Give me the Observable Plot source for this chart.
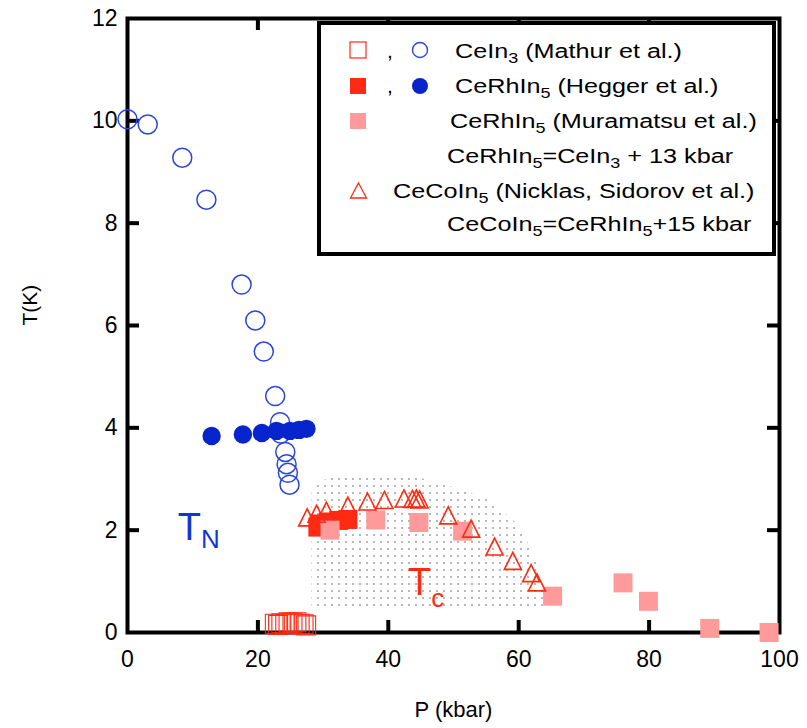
<!DOCTYPE html>
<html><head><meta charset="utf-8">
<script src="https://cdn.jsdelivr.net/npm/d3@7"></script>
<script src="https://cdn.jsdelivr.net/npm/@observablehq/plot@0.6"></script>
<style>body{margin:0;background:#fff}#chart{position:relative;width:807px;height:728px}</style>
</head><body><div id="chart"></div>
<script>
// ---- data: [P (kbar), T (K)] ----
const ceIn3_TN = [[0,10.03],[3.1,9.93],[8.4,9.28],[12.1,8.46],[17.5,6.80],[19.6,6.10],[20.9,5.49],[22.65,4.62],[23.4,4.11],[23.5,3.89],[24.2,3.53],[24.4,3.29],[24.6,3.12],[24.85,2.89]];
const ceIn3_Tc = [[22.6,0.17],[23.1,0.15],[23.6,0.18],[24.2,0.16],[24.7,0.20],[25.3,0.19],[25.9,0.20],[26.4,0.17],[27.0,0.16],[27.4,0.14]];
const ceRhIn5_TN = [[12.9,3.84],[17.7,3.87],[20.6,3.90],[22.85,3.94],[24.9,3.94],[26.3,3.96],[27.45,3.98]];
const ceRhIn5_Tc = [[29.2,2.06],[29.4,2.12],[30.8,2.16],[32.4,2.19],[33.8,2.21]];
const muramatsu = [[31.06,2.0],[38.07,2.2],[44.68,2.15],[51.4,1.98],[65.2,0.71],[76.0,0.97],[79.9,0.61],[89.3,0.08],[98.4,0.0]];
const ceCoIn5 = [[27.56,2.25],[29.0,2.32],[30.5,2.38],[33.8,2.48],[36.8,2.56],[39.4,2.59],[42.4,2.62],[43.7,2.61],[44.3,2.62],[44.8,2.60],[49.2,2.29],[52.7,2.03],[56.3,1.68],[59.1,1.40],[61.9,1.16],[62.8,0.98]];
// superconducting (stippled) region outline: [P, T top]
const scRegion = [[28.3,2.72],[29.6,2.94],[31.6,3.05],[40.3,3.09],[45.4,3.0],[50.6,2.81],[55.7,2.58],[59.8,2.12],[61.8,1.67],[63.3,1.21],[63.9,0.76],[63.9,0.49]];
const scBase = 0.49;
const xTicks = [0,20,40,60,80,100];
const yTicks = [0,2,4,6,8,10,12];
const xInner = [20,40,60,80];
const yInner = [2,4,6,8,10];

const RED = "#ff2a12", PINK = "#ff9a9a", BLUE = "#0824cc", BLUE_O = "#2a46dc";
const FONT = "'Liberation Sans', Arial, sans-serif";

const sq = {draw(c, s){const r=Math.sqrt(s/Math.PI); c.rect(-r,-r,2*r,2*r);}};
const tri = {draw(c, s){const r=Math.sqrt(s/Math.PI); c.moveTo(0,-r); c.lineTo(r,r); c.lineTo(-r,r); c.closePath();}};
const px = d => d[0], ty = d => d[1];

const plot = Plot.plot({
  width: 807, height: 728,
  marginLeft: 127, marginRight: 28, marginTop: 18, marginBottom: 96,
  x: {domain: [0, 100]},
  y: {domain: [0, 12]},
  style: {fontFamily: FONT, background: "#fff", color: "#000"},
  marks: [
    Plot.areaY(scRegion, {x: px, y1: () => scBase, y2: ty, fill: "url(#stip)"}),
    Plot.frame({stroke: "#000", strokeWidth: 4}),
    Plot.tickX(xInner, {x: d => d, stroke: "#000", strokeWidth: 4, insetTop: 602}),
    Plot.tickX(xInner, {x: d => d, stroke: "#000", strokeWidth: 4, insetBottom: 602}),
    Plot.tickY(yInner, {y: d => d, stroke: "#000", strokeWidth: 4, insetRight: 640}),
    Plot.tickY(yInner, {y: d => d, stroke: "#000", strokeWidth: 4, insetLeft: 640}),
    Plot.axisX({ticks: xTicks, tickSize: 0, tickPadding: 18, fontSize: 23, label: null}),
    Plot.axisY({ticks: yTicks, tickSize: 0, tickPadding: 10, fontSize: 23, label: null}),
    Plot.text(["P (kbar)"], {frameAnchor: "bottom", dy: 84, fontSize: 22}),
    Plot.text(["T(K)"], {frameAnchor: "left", dx: -97, rotate: -90, fontSize: 21}),
    Plot.dot(ceIn3_Tc, {x: px, y: ty, r: 9.5, symbol: sq, stroke: RED, fill: "none", strokeWidth: 1.1}),
    Plot.dot(ceIn3_TN, {x: px, y: ty, r: 9.5, stroke: BLUE_O, fill: "none", strokeWidth: 1.5}),
    Plot.dot(ceRhIn5_TN, {x: px, y: ty, r: 9.2, fill: BLUE}),
    Plot.dot(ceRhIn5_Tc, {x: px, y: ty, r: 9.5, symbol: sq, fill: RED}),
    Plot.dot(muramatsu, {x: px, y: ty, r: 9.5, symbol: sq, fill: PINK}),
    Plot.dot(ceCoIn5, {x: px, y: ty, r: 8.5, symbol: tri, stroke: RED, fill: "none", strokeWidth: 1.6})
  ]
});

const svg = d3.select(plot);
const defs = svg.insert("defs", ":first-child");
const pat = defs.append("pattern").attr("id", "stip").attr("patternUnits", "userSpaceOnUse")
  .attr("width", 7).attr("height", 7);
pat.append("rect").attr("x", 2).attr("y", 2).attr("width", 2).attr("height", 2)
  .attr("fill", "#b8b8b8").attr("shape-rendering", "crispEdges");

// annotations T_N, T_c
const X = plot.scale("x"), Y = plot.scale("y");
const annotations = [
  {main: "T", sub: "N", P: 7.8, T: 1.80, color: "#1236d0", dy: 8},
  {main: "T", sub: "c", P: 43.1, T: 0.72, color: RED, dy: 12}
];
for (const a of annotations) {
  const t = svg.append("text").attr("x", X.apply(a.P)).attr("y", Y.apply(a.T)).attr("text-anchor", "start")
    .attr("fill", a.color).attr("font-family", FONT).attr("font-size", 38);
  t.append("tspan").text(a.main);
  t.append("tspan").attr("font-size", 26).attr("dy", a.dy).text(a.sub);
}

// legend
const legendRows = [
  {syms: [["sqo",358,50],["comma",387,58],["cir",420,50]], x: 455, y: 58, parts: [["CeIn"],["3",1],[" (Mathur et al.)"]]},
  {syms: [["sqf",358,86],["comma",387,93],["cirf",420,86]], x: 455, y: 93, parts: [["CeRhIn"],["5",1],[" (Hegger et al.)"]]},
  {syms: [["sqp",358,121]], x: 450, y: 128, parts: [["CeRhIn"],["5",1],[" (Muramatsu et al.)"]]},
  {syms: [], x: 447, y: 163, parts: [["CeRhIn"],["5",1],["=CeIn"],["3",1],[" + 13 kbar"]]},
  {syms: [["tri",358.5,191]], x: 393, y: 198, parts: [["CeCoIn"],["5",1],[" (Nicklas, Sidorov et al.)"]]},
  {syms: [], x: 447, y: 231, parts: [["CeCoIn"],["5",1],["=CeRhIn"],["5",1],["+15 kbar"]]}
];
const lg = svg.append("g").attr("text-anchor", "start");
lg.append("rect").attr("x", 319).attr("y", 23).attr("width", 455).attr("height", 231)
  .attr("fill", "#fff").attr("stroke", "#000").attr("stroke-width", 4);
for (const row of legendRows) {
  for (const [k, x, y] of row.syms) {
    if (k === "sqo") lg.append("rect").attr("x", x-8).attr("y", y-8).attr("width", 16).attr("height", 16).attr("fill", "none").attr("stroke", RED).attr("stroke-width", 1.2);
    if (k === "sqf") lg.append("rect").attr("x", x-8).attr("y", y-8).attr("width", 16).attr("height", 16).attr("fill", RED);
    if (k === "sqp") lg.append("rect").attr("x", x-8).attr("y", y-8).attr("width", 16).attr("height", 16).attr("fill", PINK);
    if (k === "cir") lg.append("circle").attr("cx", x).attr("cy", y).attr("r", 7.5).attr("fill", "none").attr("stroke", BLUE_O).attr("stroke-width", 1.4);
    if (k === "cirf") lg.append("circle").attr("cx", x).attr("cy", y).attr("r", 8).attr("fill", BLUE);
    if (k === "tri") lg.append("path").attr("d", `M${x},${y-8}L${x+8},${y+7}L${x-8},${y+7}Z`).attr("fill", "none").attr("stroke", RED).attr("stroke-width", 1.3);
    if (k === "comma") lg.append("text").attr("x", x).attr("y", y).attr("font-size", 21).attr("font-family", FONT).text(",");
  }
  const t = lg.append("text").attr("transform", `translate(${row.x},${row.y}) scale(1.2,1)`)
    .attr("font-size", 21).attr("font-family", FONT).attr("fill", "#000");
  let sub = false;
  for (const [s, isSub] of row.parts) {
    const ts = t.append("tspan").text(s);
    if (isSub && !sub) { ts.attr("font-size", 15).attr("dy", 5); sub = true; }
    else if (!isSub && sub) { ts.attr("dy", -5); sub = false; }
  }
}

document.getElementById("chart").appendChild(plot);
</script></body></html>
